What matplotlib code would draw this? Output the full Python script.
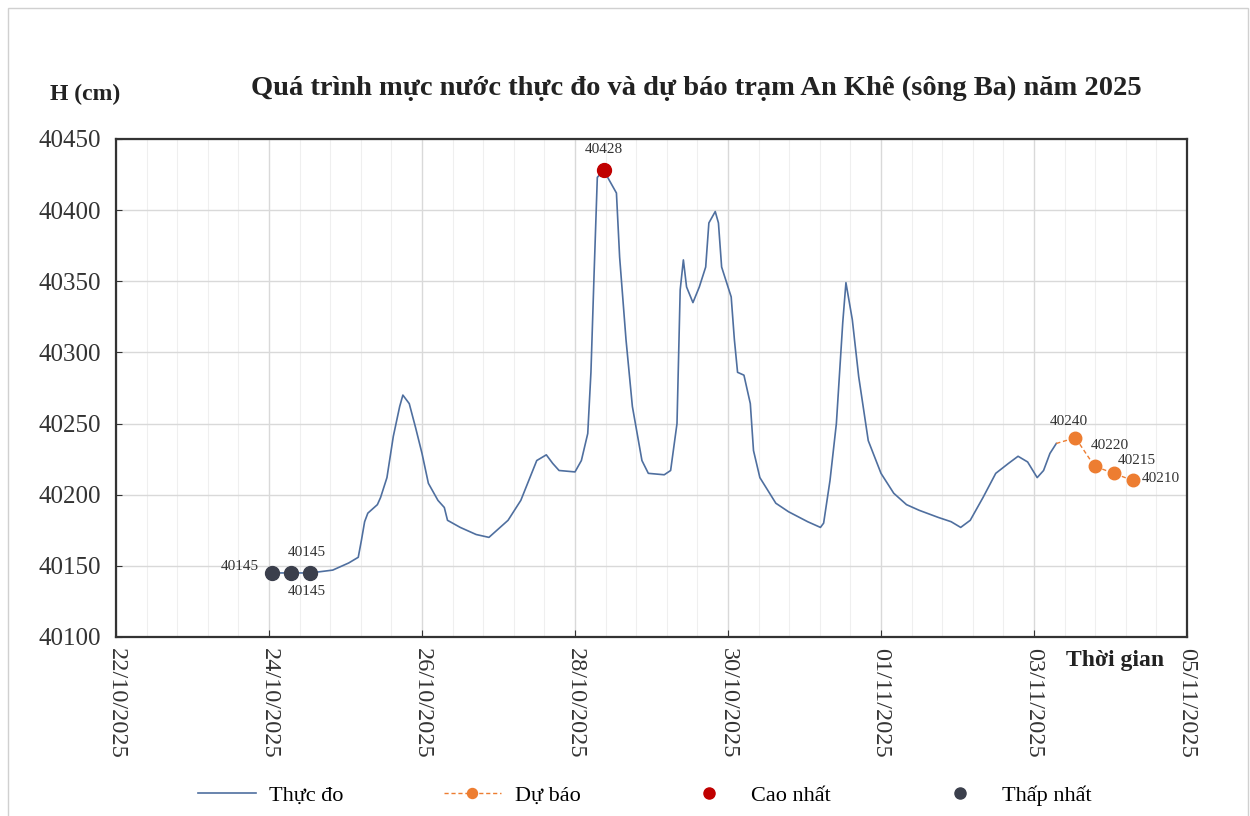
import matplotlib
matplotlib.use("Agg")
import matplotlib.pyplot as plt
import matplotlib.dates as mdates
from matplotlib.patches import Rectangle
import numpy as np
import pandas as pd

plt.rcParams['font.family'] = ['Liberation Serif', 'DejaVu Serif']

# số liệu thực đo
obs_time = ["2025-10-24 01:00", "2025-10-24 07:00", "2025-10-24 13:00", "2025-10-24 20:00",
            "2025-10-25 01:00", "2025-10-25 04:00", "2025-10-25 05:00", "2025-10-25 06:00",
            "2025-10-25 07:00", "2025-10-25 10:00", "2025-10-25 11:00", "2025-10-25 13:00",
            "2025-10-25 15:00", "2025-10-25 17:00", "2025-10-25 18:00", "2025-10-25 20:00",
            "2025-10-25 22:00", "2025-10-26 00:00", "2025-10-26 02:00", "2025-10-26 05:00",
            "2025-10-26 07:00", "2025-10-26 08:00", "2025-10-26 12:00", "2025-10-26 17:00",
            "2025-10-26 21:00", "2025-10-27 03:00", "2025-10-27 07:00", "2025-10-27 12:00",
            "2025-10-27 15:00", "2025-10-27 17:00", "2025-10-27 19:00", "2025-10-28 00:00",
            "2025-10-28 02:00", "2025-10-28 04:00", "2025-10-28 05:00", "2025-10-28 06:00",
            "2025-10-28 07:00", "2025-10-28 09:00", "2025-10-28 12:00", "2025-10-28 13:00",
            "2025-10-28 14:00", "2025-10-28 16:00", "2025-10-28 18:00", "2025-10-28 21:00",
            "2025-10-28 23:00", "2025-10-29 04:00", "2025-10-29 06:00", "2025-10-29 08:00",
            "2025-10-29 09:00", "2025-10-29 10:00", "2025-10-29 11:00", "2025-10-29 13:00",
            "2025-10-29 15:00", "2025-10-29 17:00", "2025-10-29 18:00", "2025-10-29 20:00",
            "2025-10-29 21:00", "2025-10-29 22:00", "2025-10-30 01:00", "2025-10-30 02:00",
            "2025-10-30 03:00", "2025-10-30 05:00", "2025-10-30 07:00", "2025-10-30 08:00",
            "2025-10-30 10:00", "2025-10-30 15:00", "2025-10-30 19:00", "2025-10-31 01:00",
            "2025-10-31 05:00", "2025-10-31 06:00", "2025-10-31 08:00", "2025-10-31 10:00",
            "2025-10-31 12:00", "2025-10-31 13:00", "2025-10-31 15:00", "2025-10-31 17:00",
            "2025-10-31 20:00", "2025-11-01 00:00", "2025-11-01 04:00", "2025-11-01 08:00",
            "2025-11-01 12:00", "2025-11-01 18:00", "2025-11-01 22:00", "2025-11-02 01:00",
            "2025-11-02 04:00", "2025-11-02 08:00", "2025-11-02 12:00", "2025-11-02 16:00",
            "2025-11-02 19:00", "2025-11-02 22:00", "2025-11-03 01:00", "2025-11-03 03:00",
            "2025-11-03 05:00", "2025-11-03 07:00"]
obs_level = [40145, 40145, 40145, 40147,
             40152, 40156, 40168, 40181,
             40187, 40193, 40198, 40212,
             40241, 40262, 40270, 40264,
             40247, 40229, 40208, 40196,
             40191, 40182, 40177, 40172,
             40170, 40182, 40196, 40224,
             40228, 40222, 40217, 40216,
             40224, 40243, 40286, 40356,
             40423, 40428, 40416, 40412,
             40367, 40309, 40262, 40224,
             40215, 40214, 40217, 40250,
             40344, 40365, 40346, 40335,
             40346, 40360, 40391, 40399,
             40391, 40360, 40339, 40309,
             40286, 40284, 40264, 40231,
             40212, 40194, 40188, 40181,
             40177, 40180, 40210, 40250,
             40321, 40349, 40323, 40283,
             40238, 40215, 40201, 40193,
             40189, 40184, 40181, 40177,
             40182, 40198, 40215, 40222,
             40227, 40223, 40212, 40217,
             40229, 40236]

# dự báo
fc_time = ["2025-11-03 07:00", "2025-11-03 13:00", "2025-11-03 19:00",
           "2025-11-04 01:00", "2025-11-04 07:00"]
fc_level = [40236, 40240, 40220, 40215, 40210]

# cao nhất / thấp nhất
max_time = ["2025-10-28 09:00"]
max_level = [40428]
min_time = ["2025-10-24 01:00", "2025-10-24 07:00", "2025-10-24 13:00"]
min_level = [40145, 40145, 40145]

t_obs = pd.to_datetime(obs_time)
t_fc = pd.to_datetime(fc_time)
t_max = pd.to_datetime(max_time)
t_min = pd.to_datetime(min_time)

fig = plt.figure(figsize=(12.5, 8.16), dpi=100)
ax = fig.add_axes([0.0928, 0.2194, 0.8568, 0.6103])

fig.patches.append(Rectangle((0.006, -0.01), 0.992, 1.0, transform=fig.transFigure,
                             fill=False, edgecolor='#d0d0d0', linewidth=1))

ax.plot(t_obs, obs_level, color='#4f6f9f', linewidth=1.2, label='Thực đo', zorder=3)
ax.plot(t_fc, fc_level, color='#ed7d31', linewidth=1, linestyle=(0, (3, 2)),
        marker='o', markersize=9, markevery=[1, 2, 3, 4], label='Dự báo', zorder=4)
ax.plot(t_max, max_level, 'o', color='#c00000', markersize=10, label='Cao nhất', zorder=5)
ax.plot(t_min, min_level, 'o', color='#3b3f4c', markersize=10, label='Thấp nhất', zorder=5)

lab = dict(fontsize=11, color='#333333', textcoords='offset pixels')
ax.annotate('40428', (t_max[0], max_level[0]), xytext=(0, 14), ha='center', va='bottom', **lab)
ax.annotate('40145', (t_min[0], min_level[0]), xytext=(-13, 6), ha='right', va='center', **lab)
ax.annotate('40145', (t_min[1], min_level[1]), xytext=(15, 14), ha='center', va='bottom', **lab)
ax.annotate('40145', (t_min[2], min_level[2]), xytext=(-4, -12), ha='center', va='top', **lab)
ax.annotate('40240', (t_fc[1], fc_level[1]), xytext=(-7, 10), ha='center', va='bottom', **lab)
ax.annotate('40220', (t_fc[2], fc_level[2]), xytext=(-4, 14), ha='left', va='bottom', **lab)
ax.annotate('40215', (t_fc[3], fc_level[3]), xytext=(4, 6), ha='left', va='bottom', **lab)
ax.annotate('40210', (t_fc[4], fc_level[4]), xytext=(9, 2), ha='left', va='center', **lab)

ax.set_ylim(40100, 40450)
ax.set_yticks(np.arange(40100, 40451, 50))
ax.set_xlim(pd.Timestamp("2025-10-22"), pd.Timestamp("2025-11-05"))
major = pd.date_range("2025-10-22", "2025-11-05", freq="2D")
ax.set_xticks(major)
x0 = mdates.date2num(pd.Timestamp("2025-10-22"))
ax.set_xticks(x0 + np.arange(0, 14.01, 0.4), minor=True)
ax.xaxis.set_major_formatter(mdates.DateFormatter('%d/%m/%Y'))

ax.grid(which='major', color='#d9d9d9', linewidth=1)
ax.grid(which='minor', axis='x', color='#efefef', linewidth=0.8)
ax.set_axisbelow(True)

for s in ax.spines.values():
    s.set_color('#333333')
    s.set_linewidth(1.6)

ax.tick_params(axis='x', which='major', direction='in', length=5, labelsize=17.5,
               labelrotation=-90, colors='#333333', pad=8)
ax.tick_params(axis='x', which='minor', length=0)
ax.tick_params(axis='y', direction='in', length=4, labelsize=18, colors='#333333', pad=11)
for t in ax.get_xticklabels():
    t.set_ha('center')
    t.set_va('top')

fig.text(0.557, 0.892, 'Quá trình mực nước thực đo và dự báo trạm An Khê (sông Ba) năm 2025',
         ha='center', va='center', fontsize=20.5, fontweight='bold', color='#222222')
fig.text(0.068, 0.884, 'H (cm)', ha='center', va='center', fontsize=17, fontweight='bold',
         color='#222222')
fig.text(0.892, 0.191, 'Thời gian', ha='center', va='center', fontsize=17, fontweight='bold',
         color='#222222')

fig.legend(loc='center', bbox_to_anchor=(0.516, 0.025), ncol=4, frameon=False, fontsize=16,
           handlelength=2.6, handletextpad=0.6, columnspacing=4.5, markerscale=0.8)

fig.savefig('out.png', dpi=100)
